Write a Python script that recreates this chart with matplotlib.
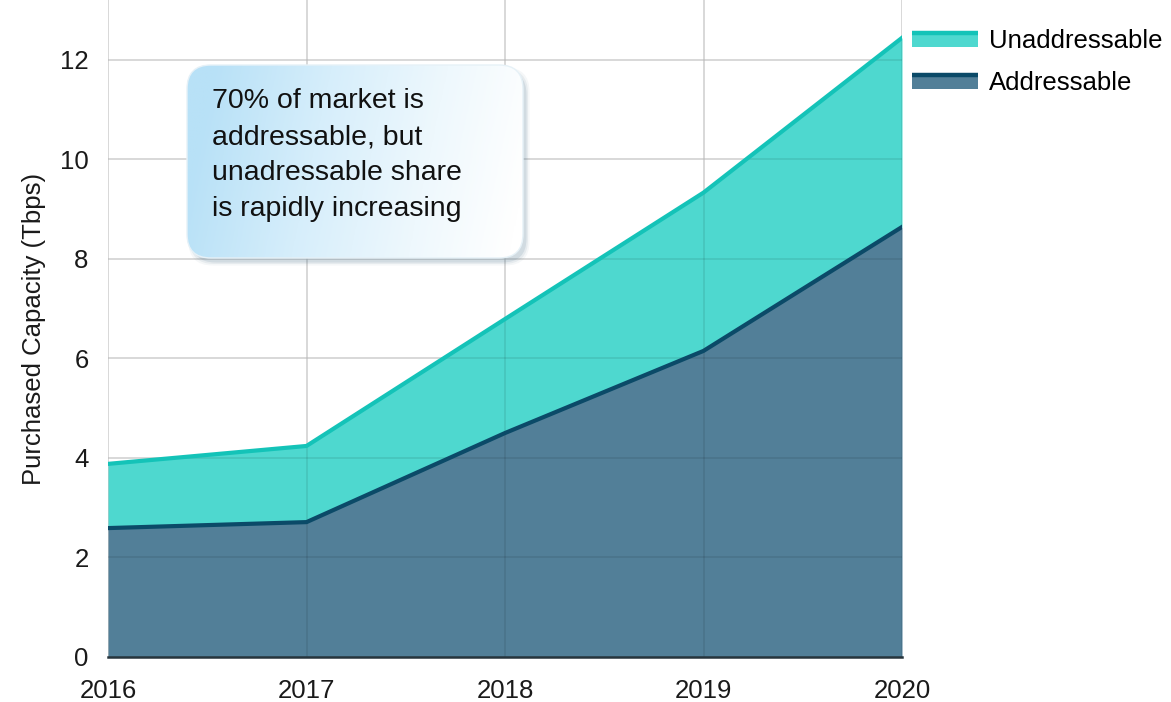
import matplotlib.pyplot as plt
import numpy as np
from matplotlib.patches import FancyBboxPatch, Patch, Rectangle
from matplotlib.lines import Line2D
from matplotlib.legend_handler import HandlerBase
from matplotlib.colors import LinearSegmentedColormap

plt.rcParams['font.family'] = ['Liberation Sans', 'DejaVu Sans']

# Purchased capacity in Tbps
years = [2016, 2017, 2018, 2019, 2020]
addressable = [2.59, 2.71, 4.50, 6.15, 8.64]
unaddressable = [1.29, 1.53, 2.29, 3.18, 3.80]
y_ticks = [0, 2, 4, 6, 8, 10, 12]

note = "70% of market is\naddressable, but\nunadressable share\nis rapidly increasing"

addr_fill, addr_line = '#527f98', '#0b4a68'
unad_fill, unad_line = '#4ed8cf', '#14c3b8'
fs = 18.5


class TopLineHandler(HandlerBase):
    # legend key: filled box with the series line along its top edge
    def create_artists(self, legend, orig_handle, xdescent, ydescent,
                       width, height, fontsize, trans):
        box = Rectangle((-xdescent, -ydescent), width, height,
                        facecolor=orig_handle.get_facecolor(), edgecolor='none',
                        transform=trans)
        top = Line2D([-xdescent, width - xdescent],
                     [height - ydescent - 1.3, height - ydescent - 1.3],
                     color=orig_handle.get_edgecolor(), lw=3.2,
                     solid_capstyle='butt', transform=trans)
        return [box, top]


fig = plt.figure(figsize=(11.71, 7.02), dpi=100)
ax = fig.add_axes([108 / 1171, 45 / 702, (902 - 108) / 1171, 657 / 702])

total = np.array(addressable) + np.array(unaddressable)
ax.fill_between(years, 0, addressable, color=addr_fill, lw=0, zorder=1)
ax.fill_between(years, addressable, total, color=unad_fill, lw=0, zorder=1)
ax.plot(years, total, color=unad_line, lw=3, zorder=3, solid_joinstyle='round')
ax.plot(years, addressable, color=addr_line, lw=3, zorder=3, solid_joinstyle='round')

ax.set_xlim(2016, 2020)
ax.set_ylim(0, 13.2)
ax.set_xticks(years)
ax.set_xticklabels([str(y) for y in years])
ax.set_yticks(y_ticks)
ax.set_axisbelow(True)
ax.grid(True, color='#ececec', lw=1.4)
# faint grid showing through the filled areas
for y in y_ticks[1:]:
    ax.axhline(y, color='black', alpha=0.08, lw=1.4, zorder=2)
for x in years:
    ax.axvline(x, color='black', alpha=0.08, lw=1.4, zorder=2)
ax.tick_params(length=0, labelsize=fs, colors='#1a1a1a')
ax.tick_params(axis='y', pad=14)
ax.tick_params(axis='x', pad=16)
for side in ['left', 'right', 'top']:
    ax.spines[side].set_visible(False)
ax.spines['bottom'].set_color('#26343c')
ax.spines['bottom'].set_linewidth(1.8)
ax.spines['bottom'].set_zorder(4)
ax.set_ylabel('Purchased Capacity (Tbps)', fontsize=fs, color='#1a1a1a', labelpad=10)

handles = [Patch(facecolor=unad_fill, edgecolor=unad_line),
           Patch(facecolor=addr_fill, edgecolor=addr_line)]
fig.legend(handles, ['Unaddressable', 'Addressable'],
           handler_map={Patch: TopLineHandler()},
           loc='upper left', bbox_to_anchor=(912 / 1171, 1 - 29 / 702),
           frameon=False, fontsize=fs, borderpad=0, borderaxespad=0,
           handlelength=2.55, handleheight=0.55, handletextpad=0.45,
           labelspacing=0.7)

# callout box drawn in pixel space on top of the chart
over = fig.add_axes([0, 0, 1, 1], zorder=5)
over.set_xlim(0, 1171)
over.set_ylim(702, 0)
over.axis('off')

x0, y0, x1, y1, r = 187, 65, 523, 258, 24
for k, a in [(9, 0.05), (6, 0.08), (3, 0.12)]:
    over.add_patch(FancyBboxPatch((x0 + 4 - k / 2 + 2, y0 + 5 - k / 2 + 2),
                                  x1 - x0 + k - 4, y1 - y0 + k - 4,
                                  boxstyle=f'round,pad=0,rounding_size={r}',
                                  facecolor='#3d6a85', edgecolor='none', alpha=a))
box = FancyBboxPatch((x0, y0), x1 - x0, y1 - y0,
                     boxstyle=f'round,pad=0,rounding_size={r}',
                     facecolor='none', edgecolor='#e6f1f7', lw=1)
over.add_patch(box)
gx = np.linspace(0, 1, 256)
gy = np.linspace(0, 1, 64)
grad = np.clip(gx[None, :] * 1.0 - (1 - gy[:, None]) * 0.12 + 0.04, 0, 1)
cmap = LinearSegmentedColormap.from_list(
    'callout', [(0, '#b8e1f7'), (0.35, '#d6eefb'), (0.7, '#eef8fd'), (1, '#ffffff')])
img = over.imshow(grad, cmap=cmap, extent=(x0, x1, y1, y0), aspect='auto',
                  interpolation='bilinear', zorder=1)
img.set_clip_path(box)
box.set_zorder(2)
over.text(212, 88, note, fontsize=20.5, color='#111111', va='top', ha='left',
          linespacing=1.5, zorder=3)

fig.savefig('out.png', dpi=100)
